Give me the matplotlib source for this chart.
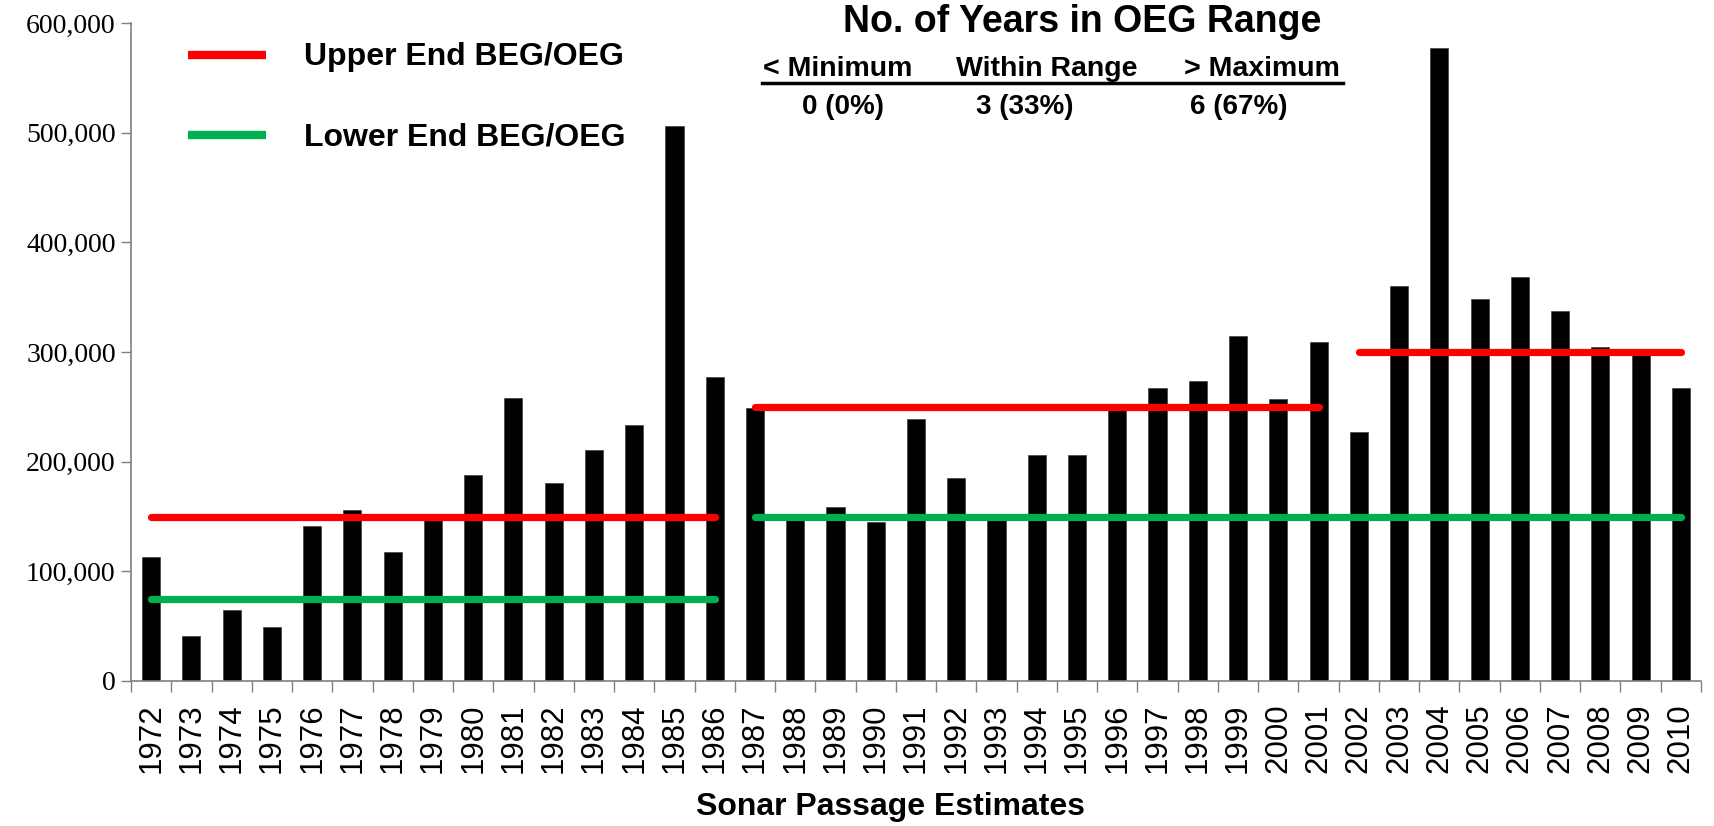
import matplotlib
matplotlib.use("Agg")
import matplotlib.pyplot as plt
from matplotlib.lines import Line2D
from matplotlib.ticker import FuncFormatter, FixedLocator
import numpy as np

years = list(range(1972, 2011))
passage = [113000, 41000, 65000, 49000, 141000, 156000, 118000, 149000, 188000, 258000,
           181000, 211000, 233000, 506000, 277000, 249000, 148000, 159000, 145000, 239000,
           185000, 148000, 206000, 206000, 251000, 267000, 274000, 315000, 257000, 309000,
           227000, 360000, 577000, 348000, 368000, 337000, 305000, 298000, 267000]

# goal segments: (first year, last year, value)
upper_segments = [(1972, 1986, 150000), (1987, 2001, 250000), (2002, 2010, 300000)]
lower_segments = [(1972, 1986, 75000), (1987, 2010, 150000)]

summary_title = "No. of Years in OEG Range"
summary_heads = ["< Minimum", "Within Range", "> Maximum"]
summary_vals = ["0 (0%)", "3 (33%)", "6 (67%)"]
legend_labels = ["Upper End BEG/OEG", "Lower End BEG/OEG"]
xlabel = "Sonar Passage Estimates"

RED = "#FF0000"
GREEN = "#00B050"
W, H = 1715, 826

fig = plt.figure(figsize=(W / 100, H / 100), dpi=100)
ax = fig.add_axes([131 / W, 1 - 681 / H, (1701 - 131) / W, (681 - 23) / H])

x = np.arange(len(years))
ax.bar(x, passage, width=0.45, color="black", edgecolor="#404040", linewidth=0.5, zorder=2)

idx = {y: i for i, y in enumerate(years)}
for a, b, v in upper_segments:
    ax.plot([idx[a], idx[b]], [v, v], color=RED, lw=5.2, solid_capstyle="round", zorder=3)
for a, b, v in lower_segments:
    ax.plot([idx[a], idx[b]], [v, v], color=GREEN, lw=5.2, solid_capstyle="round", zorder=3)

ax.set_xlim(-0.5, len(years) - 0.5)
ax.set_ylim(0, 600000)
ax.set_yticks(np.arange(0, 600001, 100000))
ax.yaxis.set_major_formatter(FuncFormatter(lambda v, p: f"{int(v):,}"))
for lab in ax.get_yticklabels():
    lab.set_fontfamily("Liberation Serif")
    lab.set_fontsize(20)
ax.tick_params(axis="y", direction="out", length=7, width=1, color="#808080", pad=4)

ax.set_xticks(x)
ax.set_xticklabels([str(y) for y in years], rotation=90, fontsize=22.5,
                   fontfamily="Liberation Sans")
ax.tick_params(axis="x", which="major", length=0, pad=16)
ax.xaxis.set_minor_locator(FixedLocator(np.arange(-0.5, len(years), 1.0)))
ax.tick_params(axis="x", which="minor", direction="out", length=8, width=1, color="#808080")

for s in ["top", "right"]:
    ax.spines[s].set_visible(False)
for s in ["left", "bottom"]:
    ax.spines[s].set_color("#808080")
    ax.spines[s].set_linewidth(1.2)

def fx(px):
    return px / W

def fy(py):
    return 1 - py / H

# legend
fig.add_artist(Line2D([fx(188), fx(266)], [fy(55), fy(55)], color=RED, lw=6, solid_capstyle="butt"))
fig.add_artist(Line2D([fx(188), fx(266)], [fy(135), fy(135)], color=GREEN, lw=6, solid_capstyle="butt"))
fig.text(fx(304), fy(57), legend_labels[0], fontsize=23, fontweight="bold",
         family="Liberation Sans", va="center", ha="left")
fig.text(fx(304), fy(138), legend_labels[1], fontsize=23, fontweight="bold",
         family="Liberation Sans", va="center", ha="left")

# summary box
fig.text(fx(1082), fy(22), summary_title, fontsize=27, fontweight="bold",
         family="Liberation Sans", va="center", ha="center")
for cx, t in zip([838, 1047, 1262], summary_heads):
    fig.text(fx(cx), fy(69), t, fontsize=20.5, fontweight="bold",
             family="Liberation Sans", va="center", ha="center")
fig.add_artist(Line2D([fx(762), fx(1343)], [fy(83), fy(83)], color="black", lw=2.5))
for cx, t in zip([843, 1025, 1239], summary_vals):
    fig.text(fx(cx), fy(107), t, fontsize=20, fontweight="bold",
             family="Liberation Sans", va="center", ha="center")

fig.text(fx(891), fy(807), xlabel, fontsize=23, fontweight="bold",
         family="Liberation Sans", va="center", ha="center")

fig.savefig("out.png", dpi=100)
